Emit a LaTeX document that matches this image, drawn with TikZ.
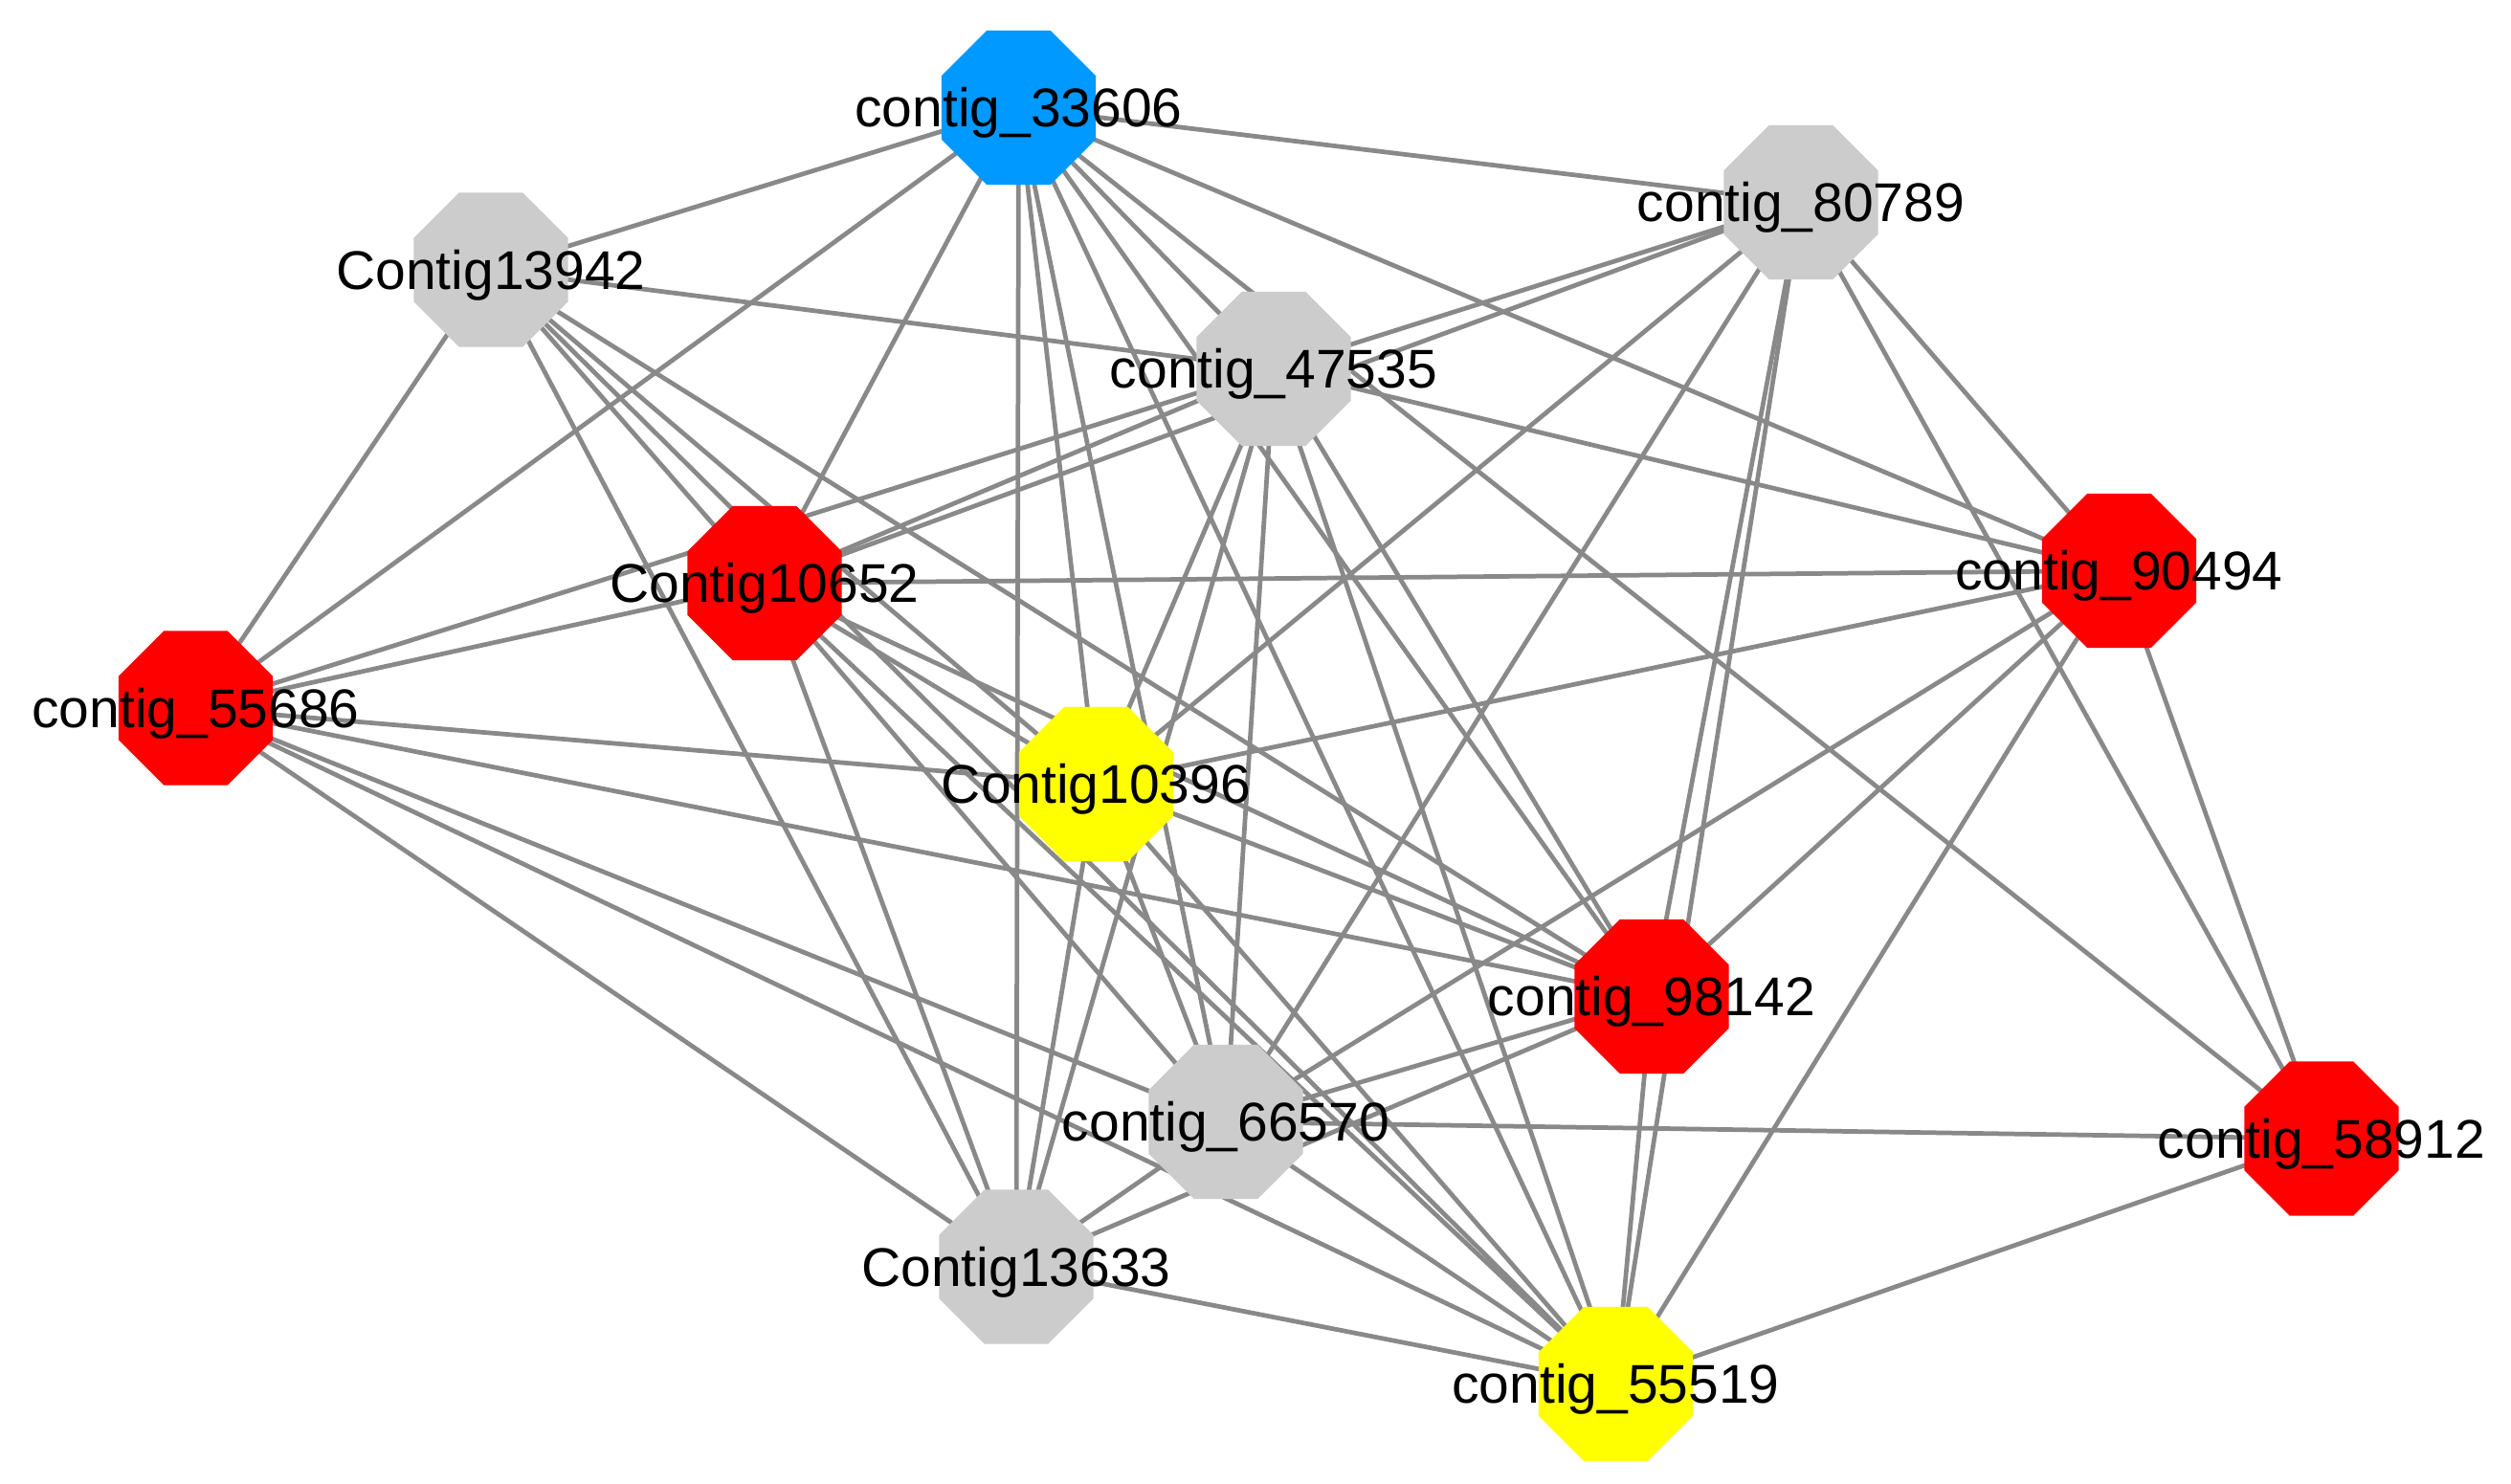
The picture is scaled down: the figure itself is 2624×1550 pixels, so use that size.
\documentclass[tikz,border=0pt]{standalone}
\usepackage{fontspec}
\setmainfont{Liberation Sans}
\usetikzlibrary{shapes.geometric,backgrounds}
\definecolor{nblue}{RGB}{0,153,255}
\definecolor{ngray}{RGB}{204,204,204}
\definecolor{nred}{RGB}{255,0,0}
\definecolor{nyellow}{RGB}{255,255,0}
\definecolor{egray}{RGB}{137,137,137}
\begin{document}
\begin{tikzpicture}[x=0.01cm,y=-0.01cm,
  oct/.style={regular polygon,regular polygon sides=8,minimum size=1.743cm,inner sep=0pt,draw=none},
  bluen/.style={oct,fill=nblue},
  grayn/.style={oct,fill=ngray},
  redn/.style={oct,fill=nred},
  yellown/.style={oct,fill=nyellow},
  lbl/.style={font=\fontsize{16.2}{19}\selectfont,inner sep=0pt,anchor=base},
  edge/.style={draw=egray,line width=1.35pt}]
\useasboundingbox (0,0) rectangle (2624,1550);
% nodes
\node[bluen]   (A) at (1064.5,112.5) {};
\node[grayn]   (B) at (1882,211.5) {};
\node[grayn]   (C) at (513,282) {};
\node[grayn]   (D) at (1331,385.5) {};
\node[redn]    (E) at (2214.5,596.5) {};
\node[redn]    (F) at (799,609.5) {};
\node[redn]    (G) at (204.5,740) {};
\node[yellown] (H) at (1145.5,819.5) {};
\node[redn]    (I) at (1726,1041.5) {};
\node[grayn]   (J) at (1281,1172.5) {};
\node[redn]    (K) at (2426,1190) {};
\node[grayn]   (L) at (1062,1324) {};
\node[yellown] (M) at (1688.5,1446.5) {};
% edges
\begin{pgfonlayer}{background}
\fill[white] (0,0) rectangle (2624,1550);
\foreach \s/\t in {A/B,A/C,A/G,A/F,A/L,A/H,A/J,A/M,A/I,A/D,A/K,A/E,
  B/D,B/F,B/H,B/J,B/I,B/M,B/K,B/E,
  C/D,C/G,C/L,C/F,C/M,C/H,C/I,
  D/G,D/F,D/E,D/H,D/J,D/L,D/I,D/M,
  E/F,E/H,E/J,E/I,E/M,E/K,
  F/G,F/H,F/I,F/J,F/L,F/M,
  G/H,G/I,G/J,G/M,G/L,
  H/L,H/J,H/I,H/M,
  I/J,I/L,I/M,
  J/K,J/L,J/M,
  K/M,L/M}
  \draw[edge] (\s.center) -- (\t.center);
\end{pgfonlayer}
% labels
\node[lbl] (At) at ([yshift=-0.204cm]A.center) {contig\_33606};
\node[lbl] (Bt) at ([yshift=-0.204cm]B.center) {contig\_80789};
\node[lbl] (Ct) at ([yshift=-0.204cm]C.center) {Contig13942};
\node[lbl] (Dt) at ([yshift=-0.204cm]D.center) {contig\_47535};
\node[lbl] (Et) at ([yshift=-0.204cm]E.center) {contig\_90494};
\node[lbl] (Ft) at ([yshift=-0.204cm]F.center) {Contig10652};
\node[lbl] (Gt) at ([yshift=-0.204cm]G.center) {contig\_55686};
\node[lbl] (Ht) at ([yshift=-0.204cm]H.center) {Contig10396};
\node[lbl] (It) at ([yshift=-0.204cm]I.center) {contig\_98142};
\node[lbl] (Jt) at ([yshift=-0.204cm]J.center) {contig\_66570};
\node[lbl] (Kt) at ([yshift=-0.204cm]K.center) {contig\_58912};
\node[lbl] (Lt) at ([yshift=-0.204cm]L.center) {Contig13633};
\node[lbl] (Mt) at ([yshift=-0.204cm]M.center) {contig\_55519};
\end{tikzpicture}
\end{document}
